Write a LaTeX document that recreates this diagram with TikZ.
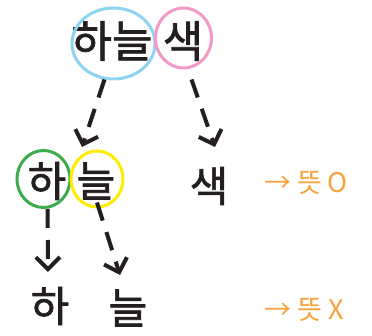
\documentclass[tikz,border=0pt]{standalone}
\usepackage{fontspec}
\setmainfont{Noto Sans CJK KR}
\newfontfamily\thickhangul{Noto Sans CJK KR}[FakeBold=1.5]
\usetikzlibrary{arrows.meta,shapes.geometric}

\definecolor{ink}{HTML}{231F20}
\definecolor{skyring}{HTML}{8ED4F2}
\definecolor{pinkring}{HTML}{F29AC6}
\definecolor{greenring}{HTML}{3DAA4C}
\definecolor{yellowring}{HTML}{FFEC00}
\definecolor{note}{HTML}{F7A23B}

\tikzset{
  word/.style={inner sep=0pt, text=ink, font=\thickhangul\fontsize{44}{44}\selectfont},
  midword/.style={word, font=\thickhangul\fontsize{42}{42}\selectfont},
  ring/.style={draw=#1, line width=3pt, ellipse, inner sep=0pt},
  link/.style={draw=ink, line width=4pt, dash pattern=on 19pt off 12pt,
    -{Straight Barb[length=12pt,width=24pt,line width=4pt]}},
  remark/.style={inner sep=0pt, text=note, font=\fontsize{27}{27}\selectfont}
}

\begin{document}
\begin{tikzpicture}[x=1pt,y=-1pt]
\useasboundingbox (0,0) rectangle (372,336);

% top word
\node[word] (sky) at (112,41) {하늘};
\node[word] (colour) at (183,41) {색};
\node[ring=skyring, minimum width=83pt, minimum height=71pt] (skyoval) at (113.5,43.5) {};
\node[ring=pinkring, minimum width=56pt, minimum height=60pt] (colouroval) at (183.5,38) {};

% middle row
\node[midword] (ha) at (47,181) {하};
\node[midword] (neul) at (96,181) {늘};
\node[midword] (saek) at (209,186) {색};
\node[ring=greenring, minimum width=53pt, minimum height=57pt] (haoval) at (43.5,179) {};
\node[ring=yellowring, minimum width=52pt, minimum height=56pt] (neuloval) at (97,179) {};

% bottom row
\node[midword] (haend) at (50,306) {하};
\node[midword] (neulend) at (128,308) {늘};

% arrow ends
\coordinate (skytip) at (82,147);
\coordinate (colourtip) at (215,147);
\coordinate (hatip) at (48,272);
\coordinate (neultip) at (120,275);

\draw[link] ([xshift=-9pt,yshift=1pt]skyoval.south) -- (skytip);
\draw[link] ([xshift=8pt,yshift=-10pt]colouroval.south) -- (colourtip);
\draw[link] ([xshift=4pt]haoval.south) -- (hatip);
\draw[link] ([xshift=0pt,yshift=6pt]neuloval.south) -- (neultip);

% meaning
\node[remark] (yes) at (306,183) {→ 뜻 O};
\node[remark] (no) at (304,310) {→ 뜻 X};
\end{tikzpicture}
\end{document}
